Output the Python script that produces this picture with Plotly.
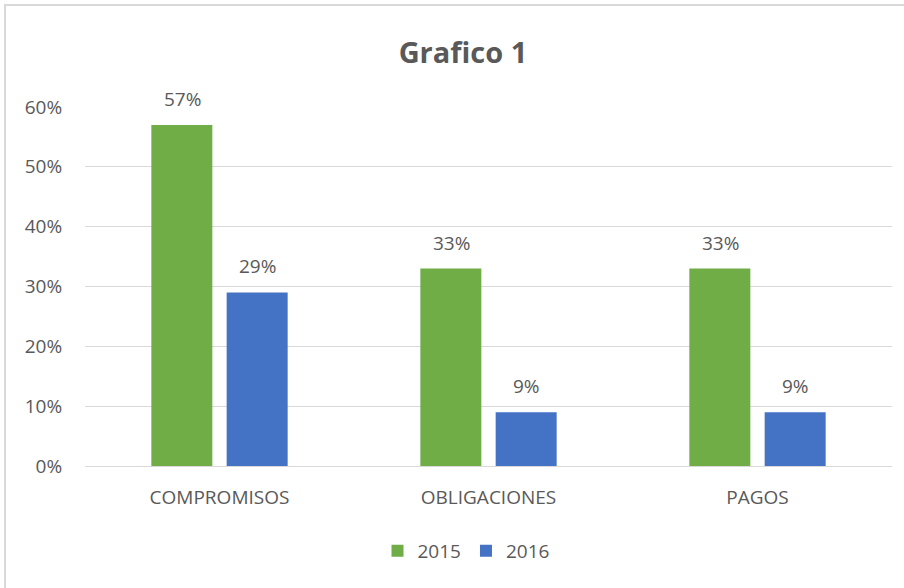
import plotly.graph_objects as go

categories = ["COMPROMISOS", "OBLIGACIONES", "PAGOS"]
series_names = ["2015", "2016"]
values_2015 = [0.57, 0.33, 0.33]
values_2016 = [0.29, 0.09, 0.09]
tick_vals = [0, 0.1, 0.2, 0.3, 0.4, 0.5, 0.6]
tick_text = ["0%", "10%", "20%", "30%", "40%", "50%", "60%"]

FONT = "Open Sans, sans-serif"
GRAY = "#595959"
FS = 19

W, H = 904, 588
L, R, T, B = 85, 12, 107, 122
pw, ph = W - L - R, H - T - B

def px(x):
    return (x - L) / pw

def py(y):
    return (H - B - y) / ph

fig = go.Figure()
annotations = []
for name, vals, color, shift in [(series_names[0], values_2015, "#70AD47", -37.5),
                                 (series_names[1], values_2016, "#4472C4", 37.5)]:
    fig.add_trace(go.Bar(
        x=categories, y=vals, name=name, marker=dict(color=color, line=dict(width=0)),
    ))
    for c, v in zip(categories, vals):
        annotations.append(dict(x=c, y=v, xref="x", yref="y", text=f"{round(v*100)}%",
                                showarrow=False, xshift=shift, yshift=11,
                                yanchor="bottom", xanchor="center",
                                font=dict(size=FS, color=GRAY, family=FONT)))

fig.update_layout(
    width=W, height=H,
    margin=dict(l=L, r=R, t=T, b=B),
    paper_bgcolor="white", plot_bgcolor="white",
    barmode="group", bargap=0.44, bargroupgap=0.19,
    title=dict(text="<b>Grafico 1</b>", x=px(463), xanchor="center", xref="paper",
               y=1 - 53 / H, yanchor="middle",
               font=dict(size=29, color=GRAY, family=FONT)),
    font=dict(family=FONT, size=FS, color=GRAY),
    legend=dict(orientation="h", x=px(466), xanchor="center", xref="paper",
                y=py(551), yanchor="middle", font=dict(size=FS, color=GRAY, family=FONT),
                itemwidth=30, traceorder="normal"),
    xaxis=dict(showgrid=False, showline=False, zeroline=False,
               ticks="outside", ticklen=14, tickcolor="rgba(0,0,0,0)",
               tickfont=dict(size=FS, color=GRAY, family=FONT)),
    yaxis=dict(range=[0, 0.6], tickvals=tick_vals, ticktext=tick_text,
               showgrid=True, gridcolor="#D9D9D9", gridwidth=1,
               zeroline=True, zerolinecolor="#D9D9D9", zerolinewidth=1,
               showline=False, ticks="outside", ticklen=18, tickcolor="rgba(0,0,0,0)",
               tickfont=dict(size=FS, color=GRAY, family=FONT)),
    annotations=annotations,
    shapes=[dict(type="rect", xref="paper", yref="paper",
                 x0=px(5), x1=px(W + 10), y0=py(H + 10), y1=py(5),
                 line=dict(color="#D9D9D9", width=2), layer="below")],
)

fig.write_html("out.html", config={"displayModeBar": False},
               post_script="document.body.style.margin='0';")
